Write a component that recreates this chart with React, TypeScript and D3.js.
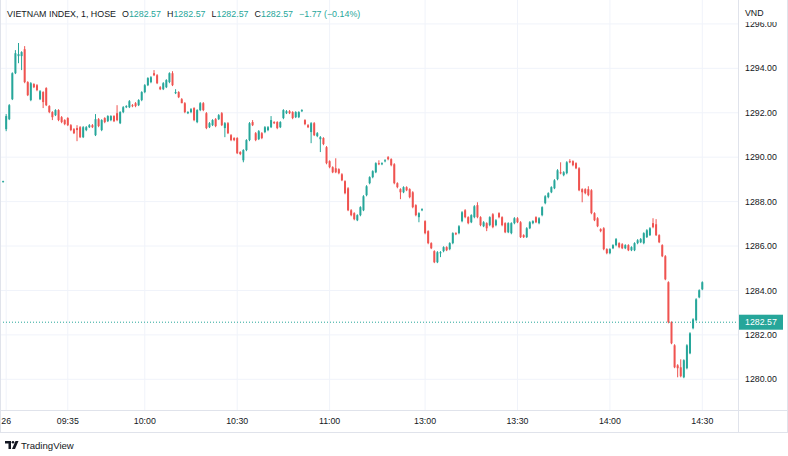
import React from "react";
import * as d3 from "d3";

// ---------- DATA ----------
// bar 0 is the previous session's closing bar, then 09:15..11:30 and 13:00..14:30
const opens: number[] = [
  1288.88,
  1291.26, 1291.71, 1292.61, 1293.78, 1294.55, 1294.55, 1294.86, 1293.38, 1292.57, 1293.29,
  1293.24, 1292.61, 1292.93, 1293.11, 1292.30, 1292.03, 1291.89, 1292.12, 1291.80, 1291.67,
  1291.76, 1291.44, 1291.26, 1291.31, 1291.35, 1290.90, 1291.22, 1291.35, 1291.44, 1290.99,
  1291.71, 1291.22, 1291.76, 1291.62, 1291.67, 1291.85, 1291.98, 1291.53, 1292.03, 1292.25,
  1292.25, 1292.34, 1292.43, 1292.34, 1292.57, 1292.93, 1293.24, 1293.38, 1293.78, 1293.69,
  1293.15, 1293.06, 1293.15, 1293.38, 1293.78, 1292.88, 1292.93, 1292.61, 1292.43, 1291.98,
  1292.03, 1292.21, 1291.58, 1292.12, 1292.43, 1291.98, 1291.35, 1291.44, 1291.71, 1291.71,
  1291.98, 1291.31, 1291.53, 1290.99, 1290.86, 1290.86, 1290.23, 1289.86, 1290.32, 1290.77,
  1291.58, 1291.08, 1290.81, 1291.08, 1291.13, 1291.22, 1291.35, 1291.58, 1291.58, 1291.35,
  1291.76, 1291.98, 1292.07, 1292.03, 1291.80, 1291.80, 1292.07, 1291.67, 1291.44, 1291.13,
  1291.53, 1290.95, 1290.81, 1290.86, 1290.45, 1289.82, 1289.55, 1289.50, 1289.46, 1289.23,
  1288.92, 1288.60, 1287.61, 1287.48, 1287.16, 1287.39, 1287.61, 1288.29, 1288.83, 1289.10,
  1289.32, 1289.73, 1289.68, 1289.82, 1290.00, 1289.91, 1289.68, 1288.83, 1288.56, 1288.42,
  1288.65, 1288.56, 1288.42, 1287.84, 1287.30, 1287.61, 1287.12, 1286.67, 1286.13, 1285.77,
  1285.27, 1285.68, 1285.77, 1285.95, 1285.86, 1286.13, 1286.58, 1286.58, 1287.12, 1287.61,
  1287.30, 1287.07, 1287.30, 1287.84, 1287.30, 1286.89, 1287.03, 1286.94, 1287.43, 1286.94,
  1287.48, 1287.30, 1287.03, 1286.62, 1286.58, 1287.03, 1287.25, 1287.07, 1286.49, 1286.40,
  1286.80, 1287.03, 1287.30, 1287.03, 1287.39, 1287.93, 1288.20, 1288.42, 1288.60, 1289.01,
  1289.32, 1289.19, 1289.28, 1289.82, 1289.82, 1289.73, 1289.50, 1288.56, 1288.56, 1288.56,
  1288.51, 1287.48, 1287.25, 1286.76, 1286.80, 1285.86, 1285.68, 1285.90, 1286.04, 1286.13,
  1286.08, 1285.90, 1286.04, 1285.81, 1285.81, 1286.13, 1286.17, 1286.13, 1286.40, 1286.49,
  1287.03, 1286.98, 1286.49, 1286.04, 1285.54, 1284.37, 1282.57, 1281.53, 1280.63, 1280.54,
  1280.09, 1280.50, 1281.17, 1282.30, 1282.66, 1283.69, 1284.05,
];

const highs: number[] = [
  1288.94,
  1291.94, 1292.39, 1293.82, 1294.82, 1295.14, 1294.77, 1295.00, 1293.42, 1293.38, 1293.33,
  1293.29, 1293.02, 1292.97, 1293.15, 1292.34, 1292.07, 1292.16, 1292.16, 1291.85, 1291.71,
  1291.80, 1291.49, 1291.31, 1291.44, 1291.40, 1291.40, 1291.40, 1291.49, 1291.49, 1291.94,
  1291.76, 1291.71, 1291.80, 1291.89, 1291.89, 1291.89, 1292.34, 1292.07, 1292.30, 1292.34,
  1292.57, 1292.39, 1292.48, 1292.61, 1292.97, 1293.29, 1293.60, 1293.65, 1293.92, 1293.74,
  1293.20, 1293.38, 1293.51, 1293.82, 1293.87, 1293.06, 1292.97, 1292.66, 1292.48, 1292.07,
  1292.21, 1292.25, 1292.16, 1292.48, 1292.48, 1292.03, 1291.58, 1291.71, 1291.76, 1291.94,
  1292.03, 1291.58, 1291.58, 1291.04, 1290.90, 1290.90, 1290.27, 1290.36, 1290.81, 1291.58,
  1291.67, 1291.13, 1291.22, 1291.13, 1291.40, 1291.40, 1291.85, 1291.62, 1291.62, 1291.62,
  1292.16, 1292.12, 1292.12, 1292.07, 1292.07, 1292.07, 1292.16, 1291.71, 1291.49, 1291.58,
  1291.58, 1291.13, 1290.95, 1290.90, 1290.50, 1289.86, 1289.59, 1289.95, 1289.50, 1289.28,
  1288.96, 1288.65, 1287.66, 1287.52, 1287.43, 1287.79, 1288.29, 1288.74, 1289.14, 1289.41,
  1289.77, 1289.86, 1289.77, 1289.91, 1290.05, 1289.95, 1289.73, 1288.87, 1288.60, 1288.69,
  1288.69, 1288.60, 1288.47, 1287.88, 1287.52, 1287.70, 1287.16, 1286.71, 1286.17, 1285.81,
  1285.77, 1285.77, 1285.99, 1285.99, 1286.17, 1286.62, 1286.62, 1286.94, 1287.57, 1287.66,
  1287.34, 1287.43, 1287.84, 1287.97, 1287.34, 1287.12, 1287.07, 1287.34, 1287.48, 1287.21,
  1287.52, 1287.34, 1287.07, 1287.07, 1287.07, 1287.30, 1287.30, 1287.12, 1286.53, 1286.85,
  1287.12, 1287.16, 1287.34, 1287.30, 1287.79, 1288.29, 1288.42, 1288.69, 1289.01, 1289.46,
  1289.77, 1289.37, 1289.82, 1289.91, 1289.86, 1289.77, 1289.55, 1288.60, 1288.60, 1288.69,
  1288.56, 1287.52, 1287.30, 1286.80, 1286.85, 1285.90, 1285.90, 1286.08, 1286.36, 1286.17,
  1286.13, 1286.08, 1286.08, 1285.99, 1286.17, 1286.31, 1286.36, 1286.62, 1286.76, 1286.85,
  1287.25, 1287.21, 1286.53, 1286.08, 1285.59, 1284.41, 1282.61, 1281.58, 1280.68, 1280.90,
  1280.90, 1281.58, 1282.12, 1282.75, 1283.65, 1284.05, 1284.41,
];

const lows: number[] = [
  1288.86,
  1291.17, 1291.67, 1292.57, 1293.74, 1294.23, 1293.92, 1293.33, 1292.75, 1292.52, 1293.11,
  1292.97, 1292.57, 1292.21, 1292.30, 1291.98, 1291.67, 1291.85, 1291.62, 1291.53, 1291.44,
  1291.40, 1291.17, 1291.04, 1290.72, 1290.86, 1290.86, 1291.17, 1291.31, 1291.31, 1290.95,
  1291.35, 1291.17, 1291.53, 1291.58, 1291.62, 1291.58, 1291.62, 1291.49, 1291.98, 1292.21,
  1292.21, 1292.25, 1292.25, 1292.30, 1292.52, 1292.88, 1293.20, 1293.33, 1293.65, 1293.29,
  1293.02, 1293.02, 1293.11, 1293.33, 1293.20, 1292.84, 1292.66, 1292.43, 1291.98, 1291.94,
  1291.98, 1291.62, 1291.53, 1292.07, 1292.07, 1291.26, 1291.31, 1291.40, 1291.35, 1291.67,
  1291.40, 1290.90, 1291.04, 1290.72, 1290.72, 1290.14, 1290.09, 1289.77, 1290.27, 1290.72,
  1291.40, 1290.72, 1290.77, 1290.81, 1291.08, 1291.17, 1291.31, 1291.49, 1291.26, 1291.31,
  1291.71, 1291.94, 1291.94, 1291.71, 1291.76, 1291.76, 1292.03, 1291.44, 1291.31, 1290.63,
  1290.95, 1290.90, 1290.23, 1290.54, 1289.68, 1289.50, 1289.28, 1289.28, 1289.23, 1288.92,
  1288.33, 1287.57, 1287.34, 1287.16, 1287.12, 1287.34, 1287.57, 1288.24, 1288.78, 1289.05,
  1289.28, 1289.64, 1289.64, 1289.77, 1289.86, 1289.59, 1288.78, 1288.60, 1288.11, 1288.38,
  1288.47, 1288.15, 1287.70, 1287.34, 1287.07, 1287.57, 1286.53, 1286.08, 1285.86, 1285.23,
  1285.23, 1285.50, 1285.72, 1285.77, 1285.81, 1286.08, 1286.49, 1286.53, 1287.07, 1287.25,
  1286.98, 1287.03, 1287.25, 1287.25, 1286.89, 1286.85, 1286.67, 1286.89, 1286.80, 1286.89,
  1287.25, 1286.89, 1286.58, 1286.58, 1286.53, 1286.98, 1287.03, 1286.36, 1286.36, 1286.36,
  1286.76, 1286.98, 1287.03, 1286.98, 1287.34, 1287.88, 1288.15, 1288.38, 1288.56, 1288.96,
  1289.23, 1289.14, 1289.23, 1289.73, 1289.59, 1289.46, 1288.47, 1287.97, 1288.33, 1288.24,
  1287.43, 1287.12, 1286.85, 1286.62, 1285.81, 1285.63, 1285.63, 1285.86, 1285.99, 1285.90,
  1285.86, 1285.86, 1285.77, 1285.77, 1285.77, 1286.08, 1286.13, 1286.08, 1286.36, 1286.45,
  1286.80, 1286.45, 1286.13, 1285.50, 1284.46, 1282.52, 1281.58, 1280.50, 1280.09, 1280.09,
  1280.05, 1280.45, 1281.13, 1282.25, 1282.61, 1283.65, 1284.01,
];

const closes: number[] = [
  1288.92,
  1291.85, 1292.34, 1293.78, 1294.68, 1294.64, 1294.73, 1293.38, 1292.79, 1293.33, 1293.15,
  1293.02, 1292.97, 1292.48, 1292.34, 1292.03, 1291.80, 1292.12, 1291.67, 1291.58, 1291.49,
  1291.44, 1291.22, 1291.08, 1291.22, 1290.90, 1291.35, 1291.35, 1291.44, 1291.35, 1291.71,
  1291.40, 1291.67, 1291.58, 1291.85, 1291.85, 1291.62, 1291.67, 1292.03, 1292.25, 1292.30,
  1292.52, 1292.30, 1292.30, 1292.57, 1292.93, 1293.24, 1293.56, 1293.60, 1293.69, 1293.33,
  1293.06, 1293.33, 1293.47, 1293.78, 1293.24, 1292.93, 1292.70, 1292.43, 1292.03, 1292.03,
  1292.16, 1291.67, 1292.12, 1292.43, 1292.12, 1291.31, 1291.53, 1291.67, 1291.40, 1291.89,
  1291.44, 1291.53, 1291.08, 1290.77, 1290.77, 1290.18, 1290.14, 1290.32, 1290.77, 1291.53,
  1291.44, 1290.77, 1291.17, 1290.86, 1291.35, 1291.35, 1291.67, 1291.53, 1291.31, 1291.58,
  1292.12, 1292.07, 1291.98, 1291.76, 1292.03, 1292.03, 1292.12, 1291.49, 1291.35, 1291.53,
  1290.99, 1291.08, 1290.90, 1290.59, 1289.73, 1289.55, 1289.32, 1289.32, 1289.28, 1288.96,
  1288.38, 1287.61, 1287.39, 1287.21, 1287.39, 1287.75, 1288.24, 1288.69, 1289.10, 1289.37,
  1289.73, 1289.68, 1289.73, 1289.86, 1289.91, 1289.64, 1288.83, 1288.65, 1288.42, 1288.65,
  1288.51, 1288.20, 1287.75, 1287.39, 1287.48, 1287.66, 1286.58, 1286.13, 1285.90, 1285.27,
  1285.72, 1285.72, 1285.95, 1285.81, 1286.13, 1286.58, 1286.53, 1286.89, 1287.52, 1287.30,
  1287.03, 1287.39, 1287.79, 1287.30, 1286.94, 1287.07, 1286.80, 1287.30, 1286.85, 1287.16,
  1287.30, 1286.94, 1286.62, 1287.03, 1287.03, 1287.25, 1287.07, 1286.40, 1286.40, 1286.80,
  1287.07, 1287.12, 1287.07, 1287.25, 1287.75, 1288.24, 1288.38, 1288.65, 1288.96, 1289.41,
  1289.28, 1289.32, 1289.77, 1289.77, 1289.64, 1289.50, 1288.51, 1288.42, 1288.38, 1288.29,
  1287.48, 1287.16, 1286.89, 1286.67, 1285.86, 1285.68, 1285.86, 1286.04, 1286.31, 1285.95,
  1285.90, 1286.04, 1285.81, 1285.95, 1286.13, 1286.26, 1286.31, 1286.58, 1286.71, 1286.80,
  1286.85, 1286.49, 1286.17, 1285.54, 1284.50, 1282.57, 1281.62, 1280.54, 1280.50, 1280.14,
  1280.86, 1281.53, 1282.07, 1282.70, 1283.60, 1284.01, 1284.37,
];

// minute bars of the trading sessions
const sessions: [string, string][] = [["09:15", "11:30"], ["13:00", "14:30"]];
const previousBar = "25 14:45";

const tickTimes = ["09:15", "09:35", "10:00", "10:30", "11:00", "13:00", "13:30", "14:00", "14:30"];
const tickLabels = ["26", "09:35", "10:00", "10:30", "11:00", "13:00", "13:30", "14:00", "14:30"];

const symbolTitle = "VIETNAM INDEX, 1, HOSE";
const lastPrice = 1282.57;
const ohlcValues = ["1282.57", "1282.57", "1282.57", "1282.57"];
const changeText = "\u22121.77 (\u22120.14%)";
const priceDomain: [number, number] = [1280, 1296];
const currency = "VND";

// ---------- helpers ----------
const toMin = (s: string) => {
  const [h, m] = s.split(":").map(Number);
  return h * 60 + m;
};
const fmt = (m: number) =>
  `${String(Math.floor(m / 60)).padStart(2, "0")}:${String(m % 60).padStart(2, "0")}`;

const barTimes: string[] = [previousBar];
sessions.forEach(([a, b]) => {
  for (let m = toMin(a); m <= toMin(b); m++) barTimes.push(fmt(m));
});

const UP = "#26a69a";
const DOWN = "#ef5350";
const GRID = "#f0f3fa";
const BORDER = "#e0e3eb";
const TEXT = "#131722";
const FONT = "'Liberation Sans', Arial, sans-serif";

export default function App() {
  const W = 788;
  const H = 456;
  const plotRight = 738;
  const axisTop = 410;
  const axisBottom = 432;

  const x = d3.scalePoint<string>().domain(barTimes).range([3.1, 702.3]);
  const y = d3.scaleLinear().domain(priceDomain).range([379.3, 23.9]);
  const priceTicks = y.ticks(8);

  const n = Math.min(opens.length, highs.length, lows.length, closes.length, barTimes.length);
  const bars = d3.range(n).map((i) => ({
    t: barTimes[i],
    o: opens[i],
    h: highs[i],
    l: lows[i],
    c: closes[i],
  }));

  const lastY = y(lastPrice);
  const fs = 8.8;

  return (
    <svg
      width={W}
      height={H}
      style={{ position: "absolute", left: 0, top: 0, display: "block", background: "#fff" }}
      fontFamily={FONT}
    >
      <rect x={0} y={0} width={W} height={H} fill="#fff" />

      {/* grid */}
      {tickTimes.map((t) => (
        <line key={"vg" + t} x1={x(t)} x2={x(t)} y1={0} y2={axisTop} stroke={GRID} strokeWidth={1} />
      ))}
      {priceTicks.map((p) => (
        <line key={"hg" + p} x1={0} x2={plotRight} y1={y(p)} y2={y(p)} stroke={GRID} strokeWidth={1} />
      ))}

      {/* candles */}
      {bars.map((b, i) => {
        const cx = x(b.t) as number;
        const up = b.c >= b.o;
        const col = up ? UP : DOWN;
        const top = y(Math.max(b.o, b.c));
        const bot = y(Math.min(b.o, b.c));
        return (
          <g key={i}>
            <line x1={cx} x2={cx} y1={y(b.h)} y2={y(b.l)} stroke={col} strokeWidth={1} />
            <rect x={cx - 1} y={top} width={2} height={Math.max(1, bot - top)} fill={col} />
          </g>
        );
      })}

      {/* last price line */}
      <line x1={0} x2={plotRight} y1={lastY} y2={lastY} stroke={UP} strokeWidth={1} strokeDasharray="1 2" />

      {/* header legend */}
      <text x={7} y={17} fontSize={8.9} fill={TEXT}>
        <tspan>{symbolTitle}</tspan>
        <tspan dx={6}>O</tspan>
        <tspan fill={UP}>{ohlcValues[0]}</tspan>
        <tspan dx={6}>H</tspan>
        <tspan fill={UP}>{ohlcValues[1]}</tspan>
        <tspan dx={6}>L</tspan>
        <tspan fill={UP}>{ohlcValues[2]}</tspan>
        <tspan dx={6}>C</tspan>
        <tspan fill={UP}>{ohlcValues[3]}</tspan>
        <tspan dx={6} fill={UP}>{changeText}</tspan>
      </text>

      {/* price axis */}
      <line x1={plotRight + 0.5} x2={plotRight + 0.5} y1={0} y2={axisBottom} stroke={BORDER} />
      {priceTicks.map((p) => (
        <text key={"pl" + p} x={745} y={y(p)} dy="0.35em" fontSize={fs} fill={TEXT}>
          {d3.format(".2f")(p)}
        </text>
      ))}
      <rect x={plotRight + 1} y={0} width={W - plotRight - 2} height={22} fill="#fff" />
      <text x={745} y={13} dy="0.35em" fontSize={fs} fill={TEXT}>
        {currency}
      </text>
      <rect x={plotRight + 1} y={lastY - 7.5} width={44} height={15} fill={UP} />
      <text x={745} y={lastY} dy="0.35em" fontSize={fs} fill="#fff">
        {d3.format(".2f")(lastPrice)}
      </text>

      {/* time axis */}
      <line x1={0} x2={W} y1={axisTop + 0.5} y2={axisTop + 0.5} stroke={BORDER} />
      <line x1={0} x2={W} y1={axisBottom + 0.5} y2={axisBottom + 0.5} stroke={BORDER} />
      {tickTimes.map((t, i) => (
        <text
          key={"tl" + t}
          x={Math.max(x(t) as number, 6)}
          y={421}
          dy="0.35em"
          fontSize={fs}
          fill={TEXT}
          textAnchor="middle"
        >
          {tickLabels[i]}
        </text>
      ))}

      {/* outer borders */}
      <line x1={0.5} x2={0.5} y1={0} y2={axisBottom} stroke={BORDER} />
      <line x1={W - 0.5} x2={W - 0.5} y1={0} y2={axisBottom} stroke={BORDER} />

      {/* TradingView attribution */}
      <g transform="translate(5,441)" fill={TEXT}>
        <path d="M0 0 H6 V8 H3.5 V2.5 H0 Z" />
        <circle cx={8} cy={1.3} r={1.3} />
        <path d="M10.5 0 H13.5 L10 8 H7 Z" />
      </g>
      <text x={21} y={445.5} dy="0.35em" fontSize={9.6} fill={TEXT}>
        TradingView
      </text>
    </svg>
  );
}
